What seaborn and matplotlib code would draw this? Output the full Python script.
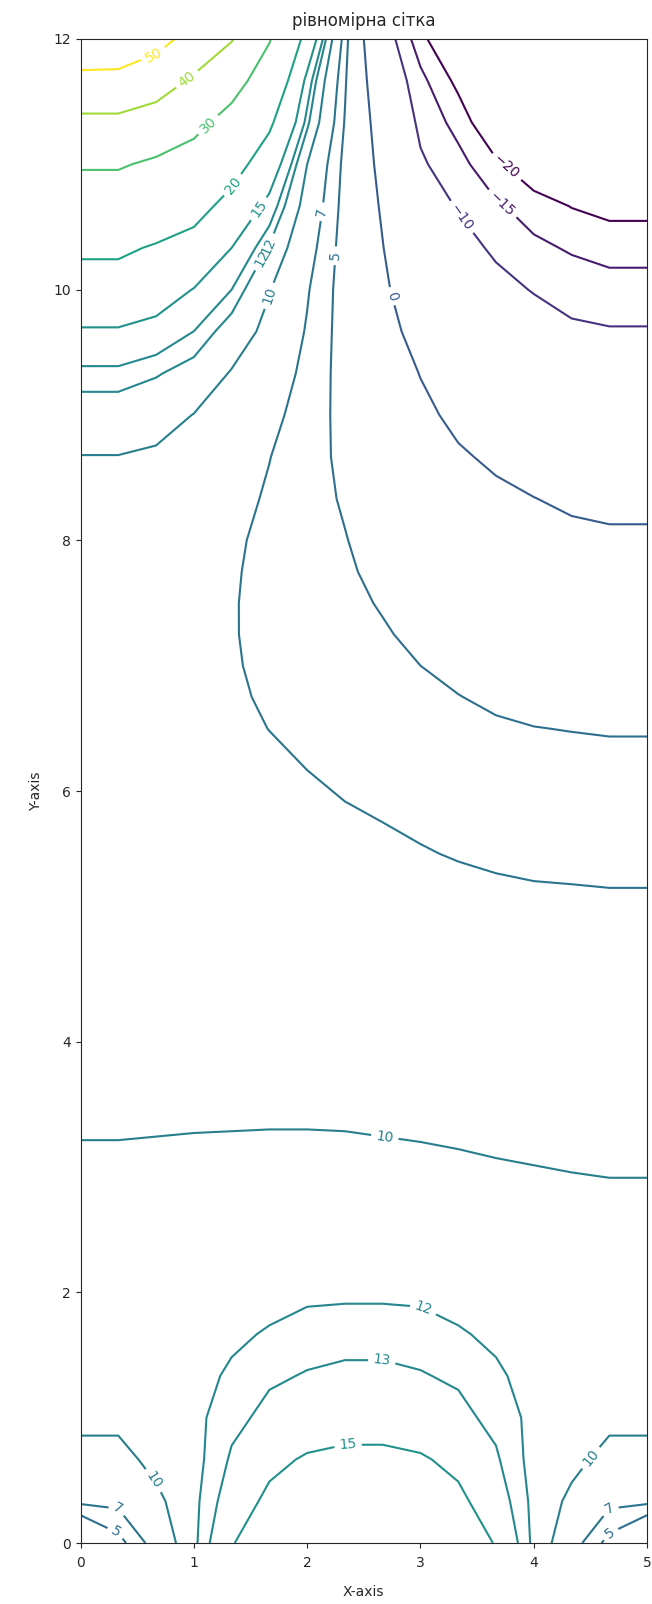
import numpy as np
import matplotlib
matplotlib.use("Agg")
import matplotlib.pyplot as plt
import seaborn as sns

# grid: 16 columns in x (step 1/3), rows finer near bottom, bend and top
x_nodes = [0, 1/3, 2/3, 1, 4/3, 5/3, 2, 7/3, 8/3, 3, 10/3, 11/3, 4, 13/3, 14/3, 5]
y_lower = [0, 1/3, 2/3, 1, 4/3, 5/3, 2, 2.5, 3, 3.5]
y_upper = [4, 4.5, 5, 5.5, 6, 6.5, 6.75, 7, 7.25, 7.5, 7.75, 8,
           8 + 1/3, 8 + 2/3, 9, 9 + 1/3, 9 + 2/3, 10, 10 + 1/3, 10 + 2/3,
           11, 11 + 1/3, 11 + 2/3, 12]

# lower part of the field, row by row (y = 0 ... 3.5)
row_00 = [0, 4.2, 8.1, 11.7, 14.8, 17.2, 19.0, 19.9, 19.9, 19.0, 17.2, 14.8, 11.7, 8.1, 4.2, 0]
row_01 = [7.5, 7.6, 9.44, 11.69, 13.77, 15.5, 16.3, 16.7, 16.7, 16.3, 15.5, 13.77, 11.69, 9.44, 7.6, 7.5]
row_02 = [9.2, 9.2, 10.7, 11.57, 13.16, 14.44, 15.24, 15.6, 15.6, 15.24, 14.44, 13.16, 11.57, 10.7, 9.2, 9.2]
row_03 = [10.6, 10.6, 11.2, 11.66, 12.68, 13.32, 13.7, 13.9, 13.9, 13.7, 13.32, 12.68, 11.66, 11.2, 10.6, 10.6]
row_04 = [10.75, 10.75, 11.3, 11.7, 12.13, 12.84, 13.07, 13.2, 13.2, 13.07, 12.84, 12.13, 11.7, 11.3, 10.75, 10.75]
row_05 = [10.75, 10.75, 11.2, 11.5, 11.84, 12.08, 12.57, 12.67, 12.67, 12.57, 12.08, 11.84, 11.5, 11.2, 10.75, 10.75]
row_06 = [10.7, 10.7, 11.0, 11.2, 11.4, 11.7, 11.7, 11.75, 11.75, 11.7, 11.7, 11.4, 11.2, 11.0, 10.7, 10.7]
row_07 = [10.5, 10.5, 10.6, 10.7, 10.75, 10.8, 10.8, 10.8, 10.78, 10.75, 10.7, 10.6, 10.5, 10.32, 10.29, 10.29]
row_08 = [10.15, 10.15, 10.17, 10.19, 10.2, 10.21, 10.21, 10.2, 10.17, 10.14, 10.1, 10.05, 10.01, 9.97, 9.94, 9.94]
row_09 = [9.8, 9.8, 9.82, 9.84, 9.85, 9.86, 9.86, 9.85, 9.82, 9.79, 9.75, 9.7, 9.66, 9.6, 9.55, 9.55]

# upper part of the field, column by column (y = 4 ... 12)
col_00 = [9.55, 9.35, 9.2, 9.05, 8.95, 8.9, 8.89, 8.88, 8.88, 8.9, 8.96, 9.05,
          9.35, 9.95, 11.19, 12.65, 14.72, 17.59, 20.9, 25.67, 30.67, 38.0, 47.3, 58]
col_01 = [9.55, 9.35, 9.2, 9.05, 8.95, 8.9, 8.89, 8.88, 8.88, 8.9, 8.96, 9.05,
          9.35, 9.95, 11.19, 12.65, 14.72, 17.59, 20.9, 25.67, 30.67, 38.0, 47.3, 57]
col_02 = [9.5, 9.25, 9.05, 8.9, 8.75, 8.68, 8.66, 8.65, 8.66, 8.68, 8.75, 8.85,
          9.2, 9.7, 10.81, 12.14, 14.1, 16.58, 19.5, 24.0, 28.8, 35.6, 44.6, 53]
col_03 = [9.45, 9.1, 8.8, 8.5, 8.3, 8.12, 8.06, 8.02, 8.0, 8.0, 8.06, 8.15,
          8.5, 9.1, 9.95, 11.38, 12.99, 14.89, 18.05, 21.96, 26.7, 32.1, 38.7, 47]
col_04 = [9.4, 8.95, 8.5, 8.05, 7.65, 7.35, 7.25, 7.17, 7.12, 7.13, 7.19, 7.3,
          7.7, 8.3, 9.05, 9.85, 11.24, 13.0, 15.0, 18.24, 22.2, 27.2, 33.2, 40.5]
col_05 = [9.4, 8.9, 8.4, 7.9, 7.45, 6.98, 6.78, 6.6, 6.5, 6.45, 6.48, 6.55,
          6.75, 7.05, 7.6, 8.4, 9.35, 10.12, 11.82, 14.05, 17.13, 20.9, 25.7, 30.5]
col_06 = [9.35, 8.8, 8.2, 7.7, 7.2, 6.6, 6.37, 6.15, 5.99, 5.85, 5.76, 5.7,
          5.7, 5.85, 6.1, 6.4, 6.8, 7.2, 8.0, 9.0, 10.0, 12.4, 14.1, 18]
col_07 = [9.3, 8.7, 8.1, 7.5, 6.9, 6.35, 6.1, 5.85, 5.65, 5.45, 5.26, 5.08,
          4.8, 4.5, 4.3, 4.15, 4.05, 4.0, 4.05, 4.2, 4.4, 4.85, 5.3, 6.0]
col_08 = [9.25, 8.6, 7.95, 7.3, 6.7, 6.1, 5.8, 5.5, 5.18, 4.85, 4.5, 4.15,
          3.65, 3.1, 2.5, 1.9, 1.3, 0.7, 0.12, -0.5, -1.3, -2.3, -3.8, -6]
col_09 = [9.2, 8.5, 7.8, 7.1, 6.45, 5.75, 5.38, 5.0, 4.57, 4.1, 3.57, 3.0,
          2.25, 1.45, 0.7, -0.1, -1.3, -2.8, -4.6, -6.8, -9.2, -11.2, -13.5, -18]
col_10 = [9.15, 8.4, 7.7, 6.9, 6.2, 5.45, 5.04, 4.6, 4.1, 3.55, 2.9, 2.2,
          1.2, 0.35, -0.7, -2.1, -3.8, -5.8, -7.9, -10.4, -13.2, -16.8, -21.5, -29]
col_11 = [9.05, 8.3, 7.55, 6.75, 6.0, 5.2, 4.72, 4.2, 3.62, 3.0, 2.28, 1.5,
          0.6, -0.5, -1.9, -3.8, -5.9, -8.3, -10.9, -14.2, -19.0, -25.7, -32, -39]
col_12 = [8.95, 8.2, 7.45, 6.65, 5.9, 5.03, 4.54, 4.0, 3.33, 2.6, 1.82, 1.0,
          0.05, -1.3, -3.0, -5.0, -7.4, -10.3, -13.8, -17.5, -24.3, -30.5, -38, -47]
col_13 = [8.9, 8.15, 7.4, 6.62, 5.85, 4.95, 4.4, 3.8, 3.05, 2.25, 1.48, 0.7,
          -0.5, -2.2, -4.2, -6.6, -9.1, -12.0, -15.6, -20.2, -26, -33, -42, -53]
col_14 = [8.85, 8.1, 7.35, 6.58, 5.8, 4.88, 4.31, 3.7, 2.92, 2.1, 1.3, 0.5,
          -0.8, -2.6, -4.8, -7.3, -9.6, -12.9, -16.9, -21.7, -28, -36, -46, -57]
col_15 = [8.85, 8.1, 7.35, 6.58, 5.8, 4.88, 4.31, 3.7, 2.92, 2.1, 1.3, 0.5,
          -0.8, -2.6, -4.8, -7.3, -9.6, -12.9, -16.9, -21.7, -28, -36, -46, -58]

levels = [-20, -15, -10, 0, 5, 7, 10, 12, 13, 15, 20, 30, 40, 50]

lower = np.array([row_00, row_01, row_02, row_03, row_04,
                  row_05, row_06, row_07, row_08, row_09])
upper = np.column_stack([col_00, col_01, col_02, col_03, col_04, col_05, col_06, col_07,
                         col_08, col_09, col_10, col_11, col_12, col_13, col_14, col_15])
Z = np.vstack([lower, upper])
X, Y = np.meshgrid(x_nodes, y_lower + y_upper)

sns.set_style("ticks")
plt.rcParams["font.family"] = ["DejaVu Sans"]

fig = plt.figure(figsize=(6.52, 16.04), dpi=100)
ax = fig.add_axes([0.1235, 0.038, 0.869, 0.9377])

cmap = sns.color_palette("viridis", as_cmap=True)
cs = ax.contour(X, Y, Z, levels=levels, cmap=cmap, linewidths=1.5)

# where the labels sit in the reference
label_spots = [(0.65, 11.86), (0.94, 11.68), (1.11, 11.33), (1.32, 10.85),
               (1.58, 10.64), (1.56, 10.27), (1.64, 10.32), (1.67, 9.95),
               (2.14, 10.62), (2.26, 10.27), (2.76, 9.95), (3.38, 10.59),
               (3.70, 10.66), (3.76, 10.98), (2.69, 3.27), (3.02, 1.86),
               (2.66, 1.45), (2.36, 0.82), (0.69, 0.53), (0.33, 0.28),
               (0.32, 0.10), (4.49, 0.69), (4.66, 0.28), (4.66, 0.10)]
ax.clabel(cs, inline=True, fontsize=10, manual=label_spots)

ax.set_title("рівномірна сітка", fontsize=12, pad=9.5)
ax.set_xlabel("X-axis", fontsize=10, labelpad=11)
ax.set_ylabel("Y-axis", fontsize=10, labelpad=7)
ax.tick_params(labelsize=10)
ax.tick_params(axis="x", pad=5.5)
ax.set_xlim(0, 5)
ax.set_ylim(0, 12)

fig.savefig("out.png", dpi=100)
plt.close(fig)
